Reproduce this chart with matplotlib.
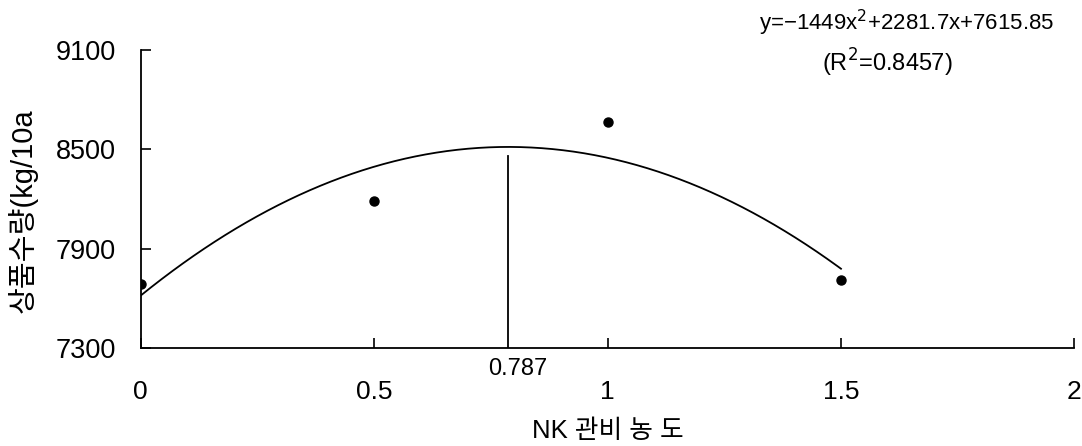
import numpy as np
import matplotlib
matplotlib.use("Agg")
import matplotlib.pyplot as plt

plt.rcParams['font.family'] = ['Liberation Sans', 'Noto Sans CJK KR', 'DejaVu Sans']
plt.rcParams['axes.unicode_minus'] = True

# 관측값 (NK 관비 농도별 상품수량)
농도 = [0, 0.5, 1, 1.5]
수량 = [7687, 8190, 8663, 7711]

# 회귀식 계수 (그림에 표기된 값)
계수 = [-1449, 2281.7, 7615.85]
r2 = 0.8457
최적농도 = 0.787
수직선_상단 = 8460

x_ticks = [0, 0.5, 1, 1.5, 2]
x_ticklabels = ['0', '0.5', '1', '1.5', '2']
y_ticks = [7300, 7900, 8500, 9100]

fig = plt.figure(figsize=(10.82, 4.46), dpi=100)
ax = fig.add_axes([0.130, 0.220, 0.863, 0.668])

xs = np.linspace(0, 1.5, 200)
ys = np.polyval(계수, xs)
ax.plot(xs, ys, color='black', linewidth=1.3)
ax.plot(농도, 수량, 'o', color='black', markersize=6.5)
ax.plot([최적농도, 최적농도], [7300, 수직선_상단], color='black', linewidth=1.3)

ax.set_xlim(0, 2)
ax.set_ylim(7300, 9100)
ax.set_xticks(x_ticks)
ax.set_xticklabels(x_ticklabels)
ax.set_yticks(y_ticks)
ax.tick_params(axis='x', direction='in', length=7, width=1.2, labelsize=19, pad=23)
ax.tick_params(axis='y', direction='in', length=7, width=1.2, labelsize=19.5, pad=18)
for s in ['top', 'right']:
    ax.spines[s].set_visible(False)
for s in ['left', 'bottom']:
    ax.spines[s].set_linewidth(1.3)

ax.annotate(f'{최적농도}', xy=(최적농도, 7300), xytext=(7, -15),
            textcoords='offset points', ha='center', va='center', fontsize=17)

ax.set_ylabel('상품수량(kg/10a', fontsize=21, labelpad=10)
ax.yaxis.set_label_coords(-0.11, 0.46)
ax.set_xlabel('NK 관비 농 도', fontsize=18.5, labelpad=11)

a, b, c = 계수
fig.text(0.838, 0.948, f'y=\u2212{-a:.0f}x$^2$+{b}x+{c}', ha='center', va='center', fontsize=16)
fig.text(0.820, 0.860, f'(R$^2$={r2})', ha='center', va='center', fontsize=17)

fig.savefig('out.png', dpi=100)
